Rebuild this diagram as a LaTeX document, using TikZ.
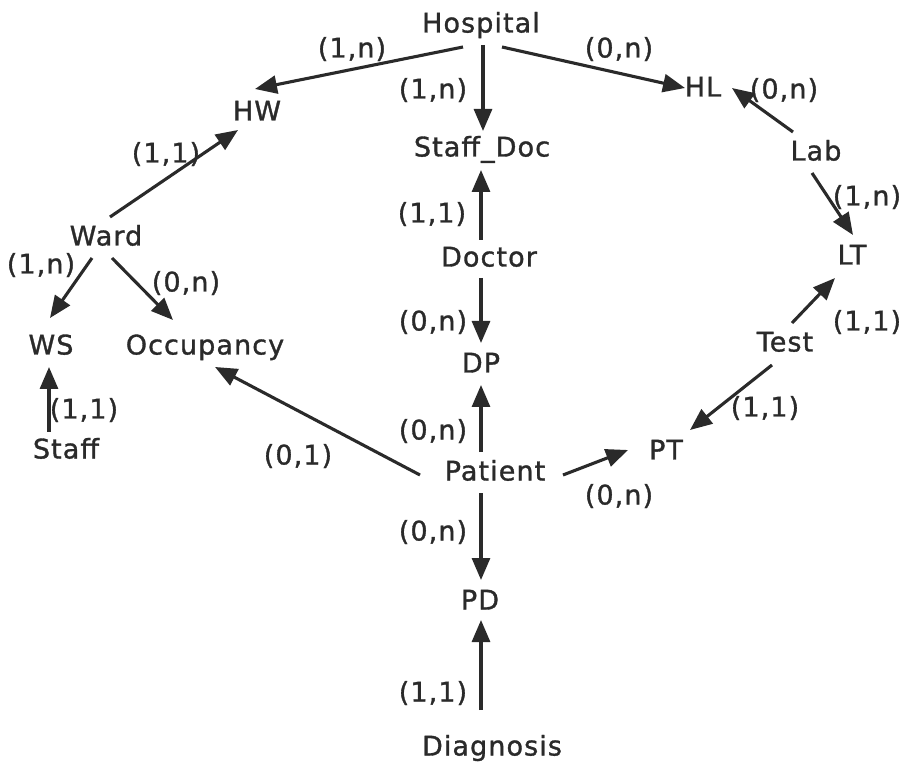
\documentclass[tikz,border=0pt]{standalone}
\usepackage{fontspec}
\setmainfont{DejaVu Sans}[LetterSpace=4,FakeBold=1.2]
\usetikzlibrary{arrows.meta,calc}
\definecolor{ink}{HTML}{2A2A2A}
\tikzset{
  ent/.style={inner sep=0pt, text height=19pt, text depth=0pt, text=ink,
    font=\fontsize{27}{30}\selectfont},
  card/.style={ent},
  arr/.style={draw=ink, line width=3.1pt,
    -{Triangle[length=22pt,width=18pt]}},
}
\begin{document}
\begin{tikzpicture}[x=1pt,y=-1pt]
\useasboundingbox (0,0) rectangle (903,767);

% entities and relationships
\node[ent] (hosp)    at (481,23)  {Hospital};
\node[ent] (hw)      at (257,111) {HW};
\node[ent] (hl)      at (703,87)  {HL};
\node[ent] (lab)     at (816,151) {Lab};
\node[ent] (lt)      at (852,255) {LT};
\node[ent] (sdoc)    at (482,147) {Staff\_Doc};
\node[ent] (doctor)  at (489,257) {Doctor};
\node[ent] (dp)      at (481,363) {DP};
\node[ent] (ward)    at (106,236) {Ward};
\node[ent] (ws)      at (51,345)  {WS};
\node[ent] (occ)     at (205,345) {Occupancy};
\node[ent] (staff)   at (66,449)  {Staff};
\node[ent] (patient) at (495,471) {Patient};
\node[ent] (pt)      at (666,450) {PT};
\node[ent] (test)    at (785,342) {Test};
\node[ent] (pd)      at (480,600) {PD};
\node[ent] (diag)    at (492,746) {Diagnosis};

% cardinalities
\node[card] (c1)  at (352,48)  {(1,n)};
\node[card] (c2)  at (619,48)  {(0,n)};
\node[card] (c3)  at (433,89)  {(1,n)};
\node[card] (c4)  at (784,89)  {(0,n)};
\node[card] (c5)  at (867,196) {(1,n)};
\node[card] (c6)  at (432,213) {(1,1)};
\node[card] (c7)  at (433,321) {(0,n)};
\node[card] (c8)  at (166,153) {(1,1)};
\node[card] (c9)  at (41,264)  {(1,n)};
\node[card] (c10) at (186,282) {(0,n)};
\node[card] (c11) at (84,409)  {(1,1)};
\node[card] (c12) at (298,455) {(0,1)};
\node[card] (c13) at (433,430) {(0,n)};
\node[card] (c14) at (619,495) {(0,n)};
\node[card] (c15) at (867,321) {(1,1)};
\node[card] (c16) at (765,407) {(1,1)};
\node[card] (c17) at (433,531) {(0,n)};
\node[card] (c18) at (433,692) {(1,1)};

% connectors
\draw[arr] ($(hosp)+(-18,24)$)    -- ($(hw)+(-2,-22)$);
\draw[arr] ($(hosp)+(2,22)$)      -- ($(sdoc)+(1,-16)$);
\draw[arr] ($(hosp)+(21,24)$)     -- ($(hl)+(-18,1)$);
\draw[arr] ($(lab)+(-23,-19)$)    -- ($(hl)+(29,1)$);
\draw[arr] ($(lab)+(-4,22)$)      -- ($(lt)+(1,-20)$);
\draw[arr] ($(ward)+(4,-19)$)     -- ($(hw)+(-19,19)$);
\draw[arr] ($(ward)+(-14,22)$)    -- ($(ws)+(-1,-27)$);
\draw[arr] ($(ward)+(6,22)$)      -- ($(occ)+(-32,-25)$);
\draw[arr] ($(staff)+(-17,-17)$)  -- ($(ws)+(-2,22)$);
\draw[arr] ($(doctor)+(-8,-17)$)  -- ($(sdoc)+(-1,23)$);
\draw[arr] ($(doctor)+(-8,21)$)   -- ($(dp)+(0,-20)$);
\draw[arr] ($(patient)+(-14,-19)$) -- ($(dp)+(0,22)$);
\draw[arr] ($(patient)+(-75,4)$)  -- ($(occ)+(10,22)$);
\draw[arr] ($(patient)+(68,4)$)   -- ($(pt)+(-38,0)$);
\draw[arr] ($(patient)+(-14,22)$) -- ($(pd)+(1,-20)$);
\draw[arr] ($(diag)+(-11,-36)$)   -- ($(pd)+(1,20)$);
\draw[arr] ($(test)+(7,-19)$)     -- ($(lt)+(-17,23)$);
\draw[arr] ($(test)+(-13,23)$)    -- ($(pt)+(24,-20)$);
\end{tikzpicture}
\end{document}
